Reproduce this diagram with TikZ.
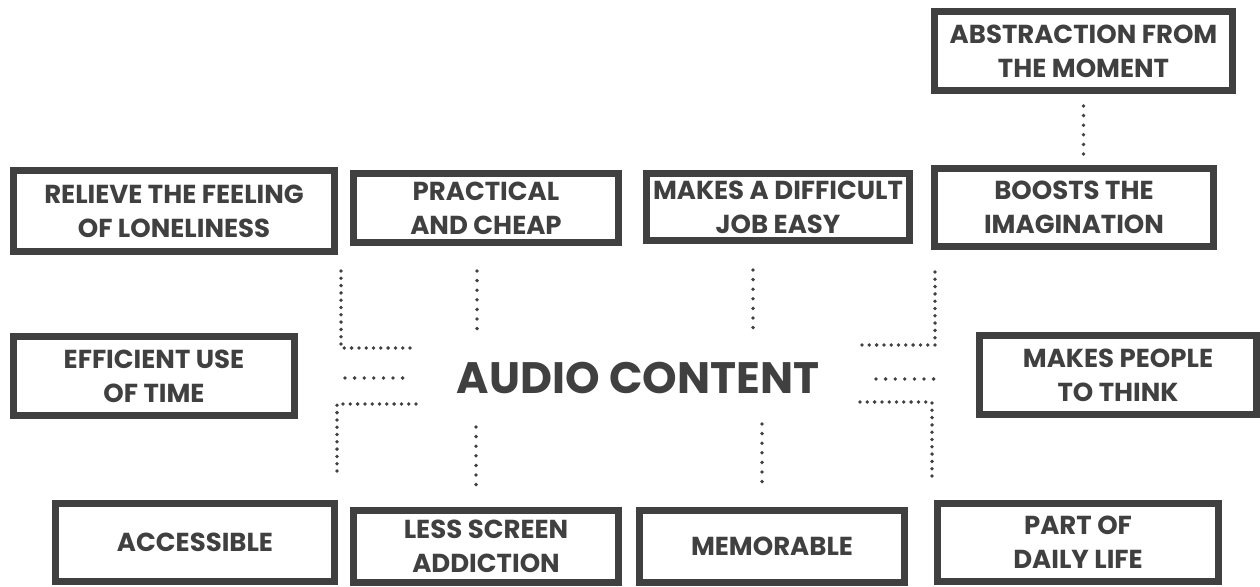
\documentclass[tikz,border=0pt]{standalone}
\usepackage{fontspec}
\setmainfont{Poppins}
\usetikzlibrary{positioning}
\definecolor{ink}{HTML}{404040}
\tikzset{
box/.style={
  draw=ink,
  line width=7pt,
  fill=white,
  inner sep=0pt,
  align=center,
  text=ink,
  font=\bfseries\fontsize{26}{34}\selectfont
  },
dots/.style={
  draw=ink,
  line width=3.8pt,
  line cap=round,
  dash pattern=on 0pt off 7.3pt
  },
sparse/.style={
  dots,
  dash pattern=on 0pt off 9.6pt
  }
}

\begin{document}
\begin{tikzpicture}[x=1pt,y=-1pt]
    \useasboundingbox (0,0) rectangle (1260,586);
    % centre
    \node[text=ink,font=\bfseries\fontsize{44}{50}\selectfont] (audio) at (638,378) {AUDIO CONTENT};
    % top row
    \node[box,minimum width=298pt,minimum height=79pt] (abs)   at (1083.5,51) {ABSTRACTION FROM\\THE MOMENT};
    \node[box,minimum width=321pt,minimum height=81pt] (rel)   at (174,211)   {RELIEVE THE FEELING\\OF LONELINESS};
    \node[box,minimum width=265pt,minimum height=69pt] (prac)  at (486,208)   {PRACTICAL\\AND CHEAP};
    \node[box,minimum width=263pt,minimum height=67pt] (diff)  at (778,207)   {MAKES A DIFFICULT\\JOB EASY};
    \node[box,minimum width=279pt,minimum height=78pt] (boost) at (1074,207.5) {BOOSTS THE\\IMAGINATION};
    % middle row
    \node[box,minimum width=281pt,minimum height=79pt] (eff)   at (154,376)   {EFFICIENT USE\\OF TIME};
    \node[box,minimum width=277pt,minimum height=79pt] (think) at (1118,375)  {MAKES PEOPLE\\TO THINK};
    % bottom row
    \node[box,minimum width=279pt,minimum height=78pt] (acc)   at (195,542)   {ACCESSIBLE};
    \node[box,minimum width=265pt,minimum height=72pt] (less)  at (486,546.5) {LESS SCREEN\\ADDICTION};
    \node[box,minimum width=265pt,minimum height=72pt] (mem)   at (772,546.5) {MEMORABLE};
    \node[box,minimum width=281pt,minimum height=78pt] (daily) at (1078,542)  {PART OF\\DAILY LIFE};
    % loose ends of the dotted links
    \coordinate (lu) at (341,271);  \coordinate (luend) at (414,348);
    \coordinate (pu) at (477,271);  \coordinate (puend) at (477,329);
    \coordinate (du) at (753,270);  \coordinate (duend) at (753,328);
    \coordinate (ru) at (935,272);  \coordinate (ruend) at (861,345);
    \coordinate (lm) at (345,378);  \coordinate (lmend) at (403,378);
    \coordinate (rm) at (876,379);  \coordinate (rmend) at (934,379);
    \coordinate (ll) at (416,404);  \coordinate (llend) at (337,477);
    \coordinate (ld) at (476,427);  \coordinate (ldend) at (476,485);
    \coordinate (md) at (762,424);  \coordinate (mdend) at (762,482);
    \coordinate (rl) at (860,402);  \coordinate (rlend) at (932,480);
    \path[sparse]
    (abs.south) ++(0,12) -- ++(0,49)
    (pu) -- (puend)
    (du) -- (duend)
    (lm) -- (lmend)
    (rm) -- (rmend)
    (ld) -- (ldend)
    (md) -- (mdend);
    \path[dots]
    (lu) |- (luend)
    (ru) |- (ruend)
    (ll) -| (llend)
    (rl) -| (rlend);
\end{tikzpicture}
\end{document}
